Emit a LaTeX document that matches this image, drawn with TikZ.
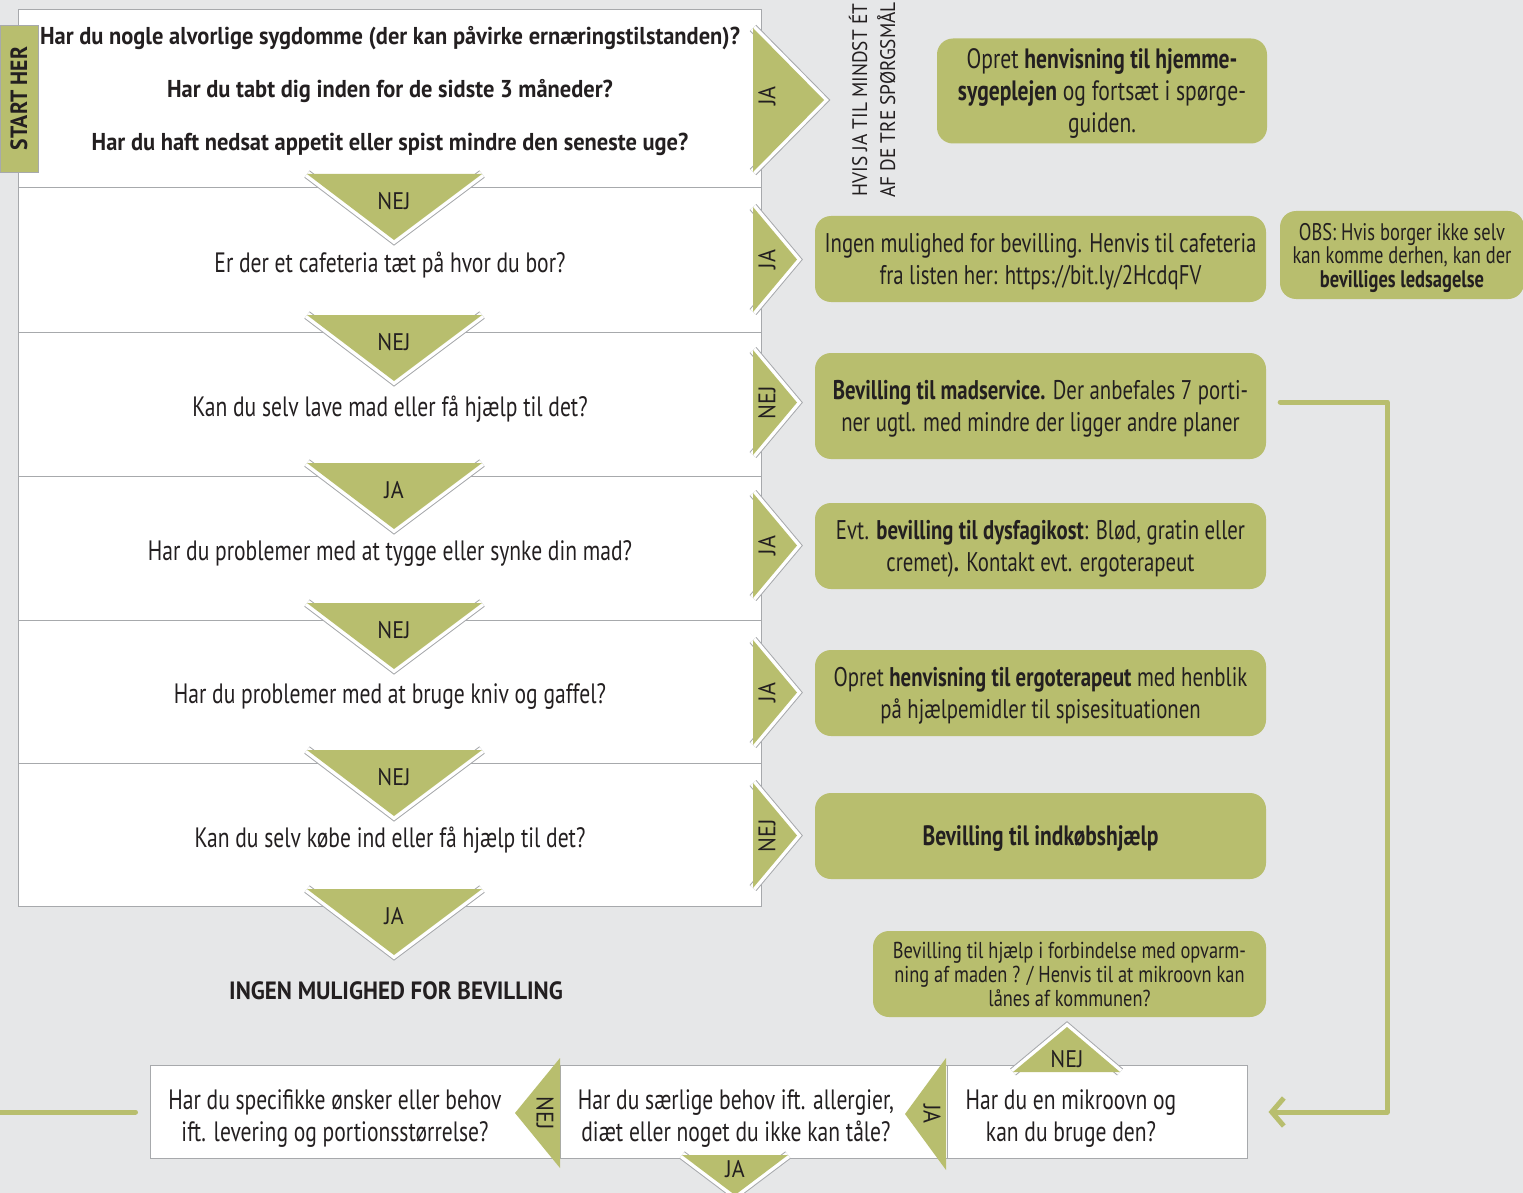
\documentclass[tikz,border=0pt]{standalone}
\usepackage{fontspec}
\setmainfont{PT Sans}[FakeStretch=0.77]
\newfontfamily\wideface{PT Sans}[FakeStretch=0.92]
\newfontfamily\narrowface{PT Sans}[FakeStretch=0.8]
\usetikzlibrary{positioning}
\usetikzlibrary{arrows.meta}

\definecolor{grass}{HTML}{B8BE6E}
\definecolor{paper}{HTML}{E6E7E8}
\definecolor{rim}{HTML}{A7A9AC}
\definecolor{ink}{HTML}{231F20}

\begin{document}
\begin{tikzpicture}[x=1pt,y=-1pt,
    rowbox/.style={draw=rim,fill=white,line width=1},
    rim band/.style={draw=rim,line width=9,line join=miter},
    white band/.style={draw=white,line width=7,line join=miter},
    tag/.style={text=ink,inner sep=0,font=\wideface\fontsize{24}{26}\selectfont},
    ask/.style={text=ink,inner sep=0,align=center,font=\fontsize{28}{32}\selectfont},
    answer/.style={fill=grass,rounded corners=16,align=center,text=ink,inner sep=0,
      text depth=0pt,font=\fontsize{27}{32}\selectfont},
    link/.style={draw=grass,line width=5,line cap=round,line join=round}]
  \fill[paper] (0,0) rectangle (1523,1193);
  \useasboundingbox (0,0) rectangle (1523,1193);

  % question rows
  \foreach \a/\b in {10/188,188/332,332/476,476/620,620/763,763/906} {
    \draw[rowbox] (18,\a) rectangle (761,\b);
  }
  \node[text=ink,inner sep=0,align=center,font=\wideface\bfseries\fontsize{24.4}{53}\selectfont] (q1) at (390,91)
    {Har du nogle alvorlige sygdomme (der kan påvirke ernæringstilstanden)?\\
     Har du tabt dig inden for de sidste 3 måneder?\\
     Har du haft nedsat appetit eller spist mindre den seneste uge?};
  \foreach \y/\txt [count=\n from 2] in {
      265/Er der et cafeteria tæt på hvor du bor?,
      409/Kan du selv lave mad eller få hjælp til det?,
      553/Har du problemer med at tygge eller synke din mad?,
      696/Har du problemer med at bruge kniv og gaffel?,
      840/Kan du selv købe ind eller få hjælp til det?} {
    \node[ask] (q\n) at (390,\y) {\txt};
  }
  \node[draw=rim,fill=grass,rotate=90,minimum width=147,minimum height=38,inner sep=0,
    text=ink,font=\wideface\bfseries\fontsize{23.5}{24}\selectfont] (start) at (19,98.5) {START HER};

  % arrows down through the rows
  \foreach \t/\lbl [count=\i] in {174/NEJ,315/NEJ,463/JA,603/NEJ,750/NEJ,889/JA} {
    \draw[rim band] (307,\t) -- (394,\t+66) -- (482,\t);
    \draw[white band] (307,\t) -- (394,\t+66) -- (482,\t);
    \fill[grass] (307,\t) -- (394,\t+66) -- (482,\t) -- cycle;
    \node[tag] (down\i) at (394,\t+27) {\lbl};
  }

  % arrows out to the right
  \draw[rim band] (753,28) -- (824,100) -- (753,172);
  \draw[white band] (753,28) -- (824,100) -- (753,172);
  \fill[grass] (753,28) -- (824,100) -- (753,172) -- cycle;
  \node[tag,rotate=90] (side1) at (767,96) {JA};
  \foreach \a/\b/\lbl [count=\i from 2] in {207/312/JA,350/455/NEJ,493/598/JA,640/745/JA,783/888/NEJ} {
    \draw[rim band] (753,\a) -- (797,{(\a+\b)/2}) -- (753,\b);
    \draw[white band] (753,\a) -- (797,{(\a+\b)/2}) -- (753,\b);
    \fill[grass] (753,\a) -- (797,{(\a+\b)/2}) -- (753,\b) -- cycle;
    \node[tag,rotate=90] (side\i) at (767,{(\a+\b)/2}) {\lbl};
  }

  \node[tag,rotate=90,align=center,font=\wideface\fontsize{21}{28}\selectfont] (hvis) at (872,100)
    {HVIS JA TIL MINDST ÉT\\AF DE TRE SPØRGSMÅL};

  % answers
  \node[answer,minimum width=330,minimum height=105,font=\fontsize{28}{32}\selectfont] (svar1) at (1102,91)
    {Opret \textbf{henvisning til hjemme-}\\\textbf{sygeplejen} og fortsæt i spørge-\\guiden.};
  \node[answer,minimum width=451,minimum height=86] (svar2) at (1040.5,259)
    {Ingen mulighed for bevilling. Henvis til cafeteria\\fra listen her: https://bit.ly/2HcdqFV};
  \node[answer,minimum width=244,minimum height=88,font=\fontsize{24}{23.5}\selectfont] (obs) at (1402,255)
    {OBS: Hvis borger ikke selv\\kan komme derhen, kan der\\\textbf{bevilliges ledsagelse}};
  \node[answer,minimum width=451,minimum height=106] (svar4) at (1040.5,406)
    {\textbf{Bevilling til madservice.} Der anbefales 7 porti-\\ner ugtl. med mindre der ligger andre planer};
  \node[answer,minimum width=451,minimum height=86] (svar5) at (1040.5,546)
    {Evt. \textbf{bevilling til dysfagikost}: Blød, gratin eller\\cremet)\textbf{.} Kontakt evt. ergoterapeut};
  \node[answer,minimum width=451,minimum height=86] (svar6) at (1040.5,693)
    {Opret \textbf{henvisning til ergoterapeut} med henblik\\på hjælpemidler til spisesituationen};
  \node[answer,minimum width=451,minimum height=86,font=\fontsize{28}{32}\selectfont] (svar7) at (1040.5,836)
    {\textbf{Bevilling til indkøbshjælp}};
  \node[answer,minimum width=393,minimum height=86,font=\narrowface\fontsize{23}{24}\selectfont] (svar8) at (1069.5,974)
    {Bevilling til hjælp i forbindelse med opvarm-\\ning af maden ? / Henvis til at mikroovn kan\\lånes af kommunen?};

  \node[text=ink,inner sep=0,font=\wideface\bfseries\fontsize{25}{25}\selectfont] (ingen) at (396,991)
    {INGEN MULIGHED FOR BEVILLING};

  % bottom row
  \node[rowbox,minimum width=410,minimum height=93,inner sep=0] (oensker) at (355,1112) {};
  \node[rowbox,minimum width=387,minimum height=93,inner sep=0] (allergi) at (753.5,1112) {};
  \node[rowbox,minimum width=300,minimum height=93,inner sep=0] (mikro) at (1097,1112) {};
  \node[ask] (oensker text) at (335,1119) {Har du specifikke ønsker eller behov\\ift. levering og portionsstørrelse?};
  \node[ask] (allergi text) at (736,1119) {Har du særlige behov ift. allergier,\\diæt eller noget du ikke kan tåle?};
  \node[ask] (mikro text) at (1071,1119) {Har du en mikroovn og\\kan du bruge den?};

  \draw[rim band] (1013,1072) -- (1067,1027) -- (1120,1072);
  \draw[white band] (1013,1072) -- (1067,1027) -- (1120,1072);
  \fill[grass] (1013,1072) -- (1067,1027) -- (1120,1072) -- cycle;
  \node[tag] (up nej) at (1067,1059) {NEJ};

  \draw[rim band] (682,1155) -- (735,1195) -- (788,1155);
  \draw[white band] (682,1155) -- (735,1195) -- (788,1155);
  \fill[grass] (682,1155) -- (735,1195) -- (788,1155) -- cycle;
  \node[tag] (down ja) at (735,1169) {JA};

  \fill[grass] (946,1058) -- (905,1114) -- (946,1170) -- cycle;
  \node[tag,rotate=-90] (left ja) at (932,1114) {JA};
  \fill[grass] (560,1058) -- (515,1113) -- (560,1168) -- cycle;
  \node[tag,rotate=-90] (left nej) at (545,1113) {NEJ};

  % connectors
  \coordinate (edge) at (0,1112);
  \draw[link] (edge) -- ([xshift=-14]oensker.west);
  \draw[link,-{Straight Barb[length=12pt,width=28pt]}] ([xshift=14,yshift=4]svar4.east) -- ++(107,0)
    |- ([xshift=21]mikro.east);
\end{tikzpicture}
\end{document}
